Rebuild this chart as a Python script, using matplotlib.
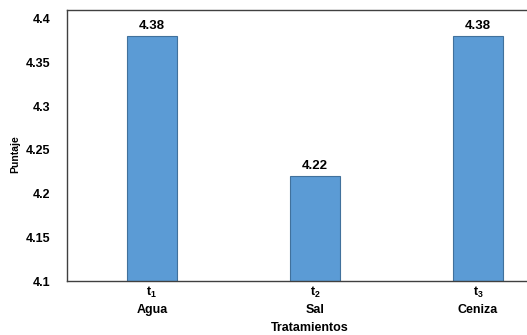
import matplotlib
matplotlib.use('Agg')
import matplotlib.pyplot as plt

# Puntaje promedio por tratamiento
codigos = ['1', '2', '3']
tratamientos = ['Agua', 'Sal', 'Ceniza']
puntajes = [4.38, 4.22, 4.38]
yticks = [4.1, 4.15, 4.2, 4.25, 4.3, 4.35, 4.4]
yticklabels = ['4.1', '4.15', '4.2', '4.25', '4.3', '4.35', '4.4']

plt.rcParams['font.family'] = ['Liberation Sans', 'DejaVu Sans']
plt.rcParams['font.weight'] = 'bold'
plt.rcParams['mathtext.fontset'] = 'custom'
plt.rcParams['mathtext.rm'] = 'Liberation Sans'
plt.rcParams['mathtext.bf'] = 'Liberation Sans:bold'

fig = plt.figure(figsize=(5.27, 3.35), dpi=100)
# eje hasta el borde derecho, sin spine derecho
ax = fig.add_axes([67 / 527, 54 / 335, 1 - 67 / 527, 271 / 335])

x = range(len(puntajes))
bars = ax.bar(x, puntajes, width=0.305, color='#5B9BD5', edgecolor='#41719C', linewidth=0.8)
for b, v in zip(bars, puntajes):
    ax.text(b.get_x() + b.get_width() / 2, v + 0.005, f'{v:.2f}',
            ha='center', va='bottom', fontsize=9.5, fontweight='bold')

ax.set_xlim(-0.521, 2.30)
ax.set_ylim(4.1, 4.41)
ax.set_yticks(yticks)
ax.set_yticklabels(yticklabels, fontsize=9, fontweight='bold')
ax.set_xticks(list(x))
ax.set_xticklabels([r'$\mathbf{t}_\mathbf{%s}$' % c + '\n' + t for c, t in zip(codigos, tratamientos)],
                   fontsize=9, fontweight='bold', linespacing=1.4)
ax.tick_params(axis='y', length=0, pad=12)
ax.tick_params(axis='x', length=0, pad=3)

for s in ['top', 'bottom', 'left']:
    ax.spines[s].set_color('#404040')
    ax.spines[s].set_linewidth(1)
ax.spines['right'].set_visible(False)

ax.set_xlabel('Tratamientos', fontsize=9, fontweight='bold')
ax.xaxis.set_label_coords((310 - 67) / 460, -41 / 271)
ax.set_ylabel('Puntaje', fontsize=7.5, fontweight='bold')
ax.yaxis.set_label_coords(-47 / 460, 0.47)

fig.savefig('out.png', dpi=100)
